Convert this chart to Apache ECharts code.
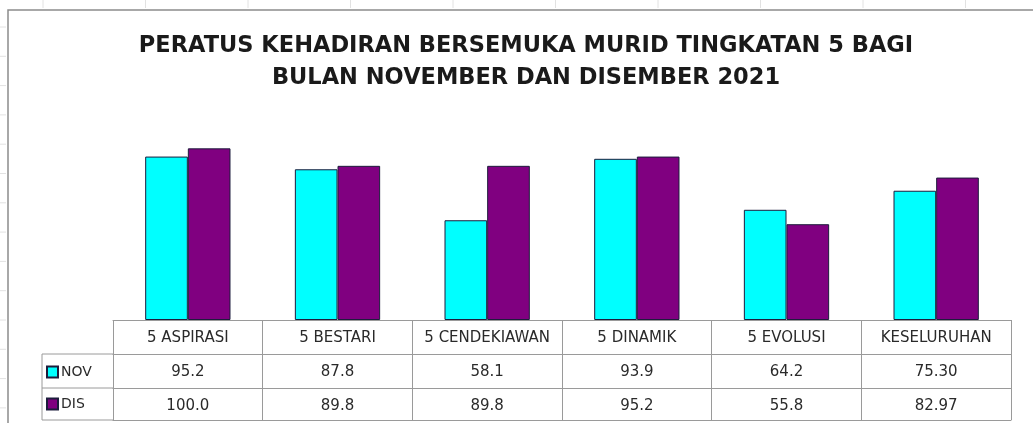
<!DOCTYPE html>
<html>
<head>
<meta charset="utf-8">
<script src="https://cdn.jsdelivr.net/npm/echarts@6/dist/echarts.min.js"></script>
<style>
  html, body { margin: 0; padding: 0; background: #fff; }
  #chart { width: 1033px; height: 423px; }
</style>
</head>
<body>
<div id="chart"></div>
<script>
// Data
var categories = ['5 ASPIRASI', '5 BESTARI', '5 CENDEKIAWAN', '5 DINAMIK', '5 EVOLUSI', 'KESELURUHAN'];
var novValues = [95.2, 87.8, 58.1, 93.9, 64.2, 75.30];
var disValues = [100.0, 89.8, 89.8, 95.2, 55.8, 82.97];
var decimals = [1, 1, 1, 1, 1, 2];

// Layout (pixels)
var gridLeft = 113, gridRight = 22, gridTop = 114, gridBottom = 103;
var baseY = 423 - gridBottom;
var rowH = 34;
var fontFam = '"DejaVu Sans", "Open Sans", sans-serif';
var lineColor = '#9a9a9a';

function fmt(arr) {
    return arr.map(function (v, i) { return v.toFixed(decimals[i]); });
}

var chart = echarts.init(document.getElementById('chart'));

// Décor : cadre du graphique + traits de la feuille de calcul
var decor = [];
decor.push({ type: 'polyline', shape: { points: [[8, 440], [8, 10], [1040, 10]] },
    style: { stroke: '#8c8c8c', lineWidth: 1.5, fill: null } });
for (var y = 27; y < 423; y += 29.3) {
    decor.push({ type: 'line', shape: { x1: 0, y1: y, x2: 6, y2: y }, style: { stroke: '#e2e2e2', lineWidth: 1 } });
}
for (var x = 43; x < 1033; x += 102.5) {
    decor.push({ type: 'line', shape: { x1: x, y1: 0, x2: x, y2: 8 }, style: { stroke: '#e2e2e2', lineWidth: 1 } });
}
// colonne de légende du tableau
var legLeft = 42, tableBottom = baseY + 100;
[baseY + rowH, baseY + 2 * rowH, tableBottom].forEach(function (yy) {
    decor.push({ type: 'line', shape: { x1: legLeft, y1: yy, x2: gridLeft, y2: yy },
        style: { stroke: lineColor, lineWidth: 1 } });
});
decor.push({ type: 'line', shape: { x1: legLeft, y1: baseY + rowH, x2: legLeft, y2: tableBottom },
    style: { stroke: lineColor, lineWidth: 1 } });

var labelStyle = { interval: 0, margin: 11, fontSize: 15, color: '#2a2a2a', fontFamily: fontFam };

var option = {
    animation: false,
    backgroundColor: '#fff',
    textStyle: { fontFamily: fontFam },
    title: {
        text: 'PERATUS KEHADIRAN BERSEMUKA MURID TINGKATAN 5 BAGI\nBULAN NOVEMBER DAN DISEMBER 2021',
        left: 521,
        textAlign: 'center',
        top: 25,
        padding: 5,
        textStyle: {
            fontFamily: fontFam,
            fontSize: 22.5,
            fontWeight: 'bold',
            lineHeight: 32,
            color: '#1a1a1a'
        }
    },
    legend: {
        data: ['NOV', 'DIS'],
        orient: 'vertical',
        left: 46,
        top: 365,
        padding: 0,
        itemWidth: 11,
        itemHeight: 11,
        itemGap: 18,
        icon: 'rect',
        textStyle: { fontFamily: fontFam, fontSize: 14, color: '#2a2a2a', padding: [0, 0, 0, -2] }
    },
    grid: { left: gridLeft, right: gridRight, top: gridTop, bottom: gridBottom },
    xAxis: [
        {
            type: 'category',
            data: categories,
            position: 'bottom',
            axisLine: { lineStyle: { color: lineColor } },
            axisTick: { show: true, length: 100, interval: 0, alignWithLabel: false, lineStyle: { color: lineColor } },
            axisLabel: labelStyle
        },
        {
            type: 'category',
            data: fmt(novValues),
            position: 'bottom',
            offset: rowH,
            axisLine: { lineStyle: { color: lineColor } },
            axisTick: { show: false },
            axisLabel: labelStyle
        },
        {
            type: 'category',
            data: fmt(disValues),
            position: 'bottom',
            offset: rowH * 2,
            axisLine: { lineStyle: { color: lineColor } },
            axisTick: { show: false },
            axisLabel: labelStyle
        },
        {
            type: 'category',
            data: categories,
            position: 'bottom',
            offset: 100,
            axisLine: { lineStyle: { color: lineColor } },
            axisTick: { show: false },
            axisLabel: { show: false }
        }
    ],
    yAxis: {
        type: 'value',
        min: 0,
        max: 120,
        show: false,
        splitLine: { show: false }
    },
    series: [
        {
            name: 'NOV',
            type: 'bar',
            xAxisIndex: 0,
            data: novValues,
            barGap: '0%',
            barCategoryGap: '43%',
            itemStyle: { color: '#00FFFF', borderColor: '#1c1c3c', borderWidth: 1 }
        },
        {
            name: 'DIS',
            type: 'bar',
            xAxisIndex: 0,
            data: disValues,
            itemStyle: { color: '#800080', borderColor: '#1c1c3c', borderWidth: 1 }
        }
    ],
    graphic: decor
};

chart.setOption(option);
</script>
</body>
</html>
